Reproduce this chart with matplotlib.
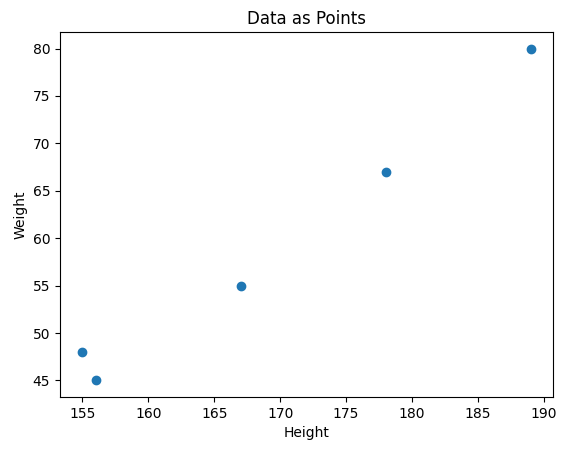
import matplotlib
matplotlib.use("Agg")
import matplotlib.pyplot as plt

heights = [155, 156, 167, 178, 189]
weights = [48, 45, 55, 67, 80]

fig = plt.figure(figsize=(5.66, 4.55), dpi=100)
ax = fig.add_axes([60/566, 1-397/455, (553-60)/566, (397-32)/455])
ax.scatter(heights, weights)
ax.set_title("Data as Points")
ax.set_xlabel("Height")
ax.set_ylabel("Weight")
fig.savefig("out.png", dpi=100)
